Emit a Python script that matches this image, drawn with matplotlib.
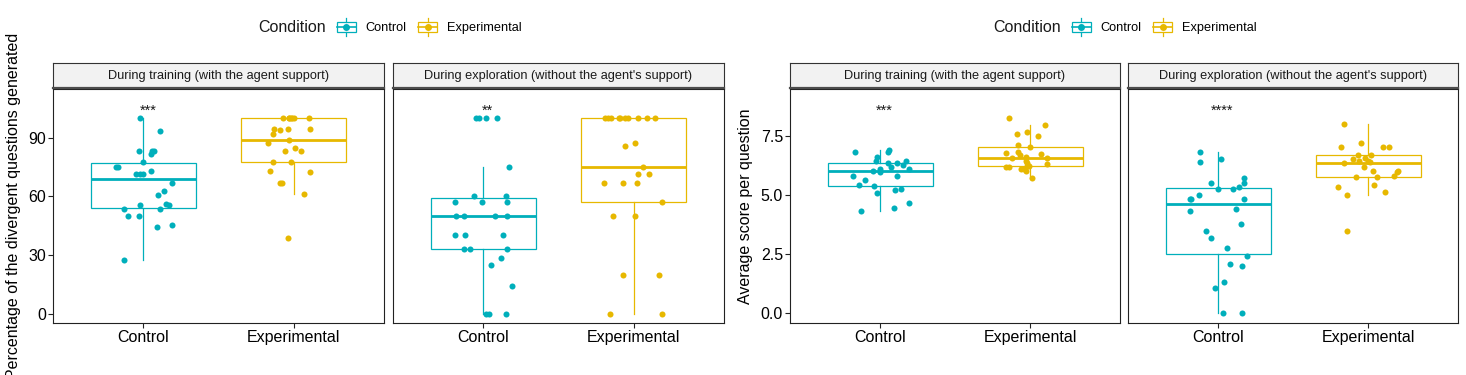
import matplotlib
matplotlib.use('Agg')
import matplotlib.pyplot as plt
from matplotlib.patches import Rectangle
from matplotlib.lines import Line2D
from matplotlib.legend_handler import HandlerBase
import numpy as np

plt.rcParams['font.family'] = ['Liberation Sans', 'DejaVu Sans']

groups = ['Control', 'Experimental']
colors = {'Control': '#00AFBB', 'Experimental': '#E7B800'}
facets = ['During training (with the agent support)',
          "During exploration (without the agent's support)"]

# percentage of divergent questions (left chart)
train_ctrl_pct = [100, 93.3, 83.3, 81.8, 83.3, 83.3, 77.8, 75, 75, 71.4, 71.4, 71.4, 72.7,
                  66.7, 62.5, 60.9, 55.6, 56.2, 55.6, 53.3, 53.3, 50, 50, 45.5, 44.4, 27.6]
train_ctrl_pct_jit = [-0.02, 0.11, -0.03, 0.05, 0.06, 0.07, 0.00, -0.18, -0.17, -0.05, 0.00, -0.02, 0.05,
                      0.19, 0.14, 0.10, -0.02, 0.15, 0.17, -0.13, 0.11, -0.10, -0.03, 0.19, 0.09, -0.13]
train_exp_pct = [100, 100, 100, 100, 100, 100, 100, 94.4, 94.4, 94.4, 93.8, 91.7, 88.9,
                 87.5, 83.3, 84.6, 83.3, 77.8, 77.8, 72.7, 72.2, 66.7, 66.7, 61.1, 38.9]
train_exp_pct_jit = [-0.07, -0.03, -0.02, 0.00, 0.10, -0.03, -0.01, -0.13, -0.04, 0.11, -0.09, -0.14, -0.03,
                     -0.17, -0.06, 0.01, 0.05, -0.14, -0.02, -0.16, 0.11, -0.09, -0.08, 0.07, -0.04]
explore_ctrl_pct = [100, 100, 100, 100, 75, 60, 60, 57.1, 57.1, 57.1, 50, 50, 50, 50,
                    40, 40, 40, 33.3, 33.3, 33.3, 28.6, 25, 14.3, 0, 0, 0]
explore_ctrl_pct_jit = [-0.05, -0.03, 0.02, 0.09, 0.17, -0.06, 0.15, -0.19, -0.01, 0.16, -0.18, -0.13, 0.08, 0.16,
                        -0.19, -0.12, 0.13, -0.13, -0.09, 0.16, 0.12, 0.05, 0.19, 0.02, 0.04, 0.15]
explore_exp_pct = [100, 100, 100, 100, 100, 100, 100, 100, 100, 100, 87.5, 85.7, 75,
                   71.4, 71.4, 66.7, 66.7, 66.7, 57.1, 50, 50, 20, 20, 0, 0]
explore_exp_pct_jit = [-0.19, -0.17, -0.15, -0.10, -0.09, -0.06, -0.04, 0.03, 0.09, 0.14, 0.01, -0.06, 0.06,
                       0.03, 0.10, -0.20, -0.07, 0.02, 0.19, -0.14, 0.01, -0.07, 0.17, -0.16, 0.19]

# average score per question (right chart)
train_ctrl_score = [6.81, 6.90, 6.81, 6.61, 6.44, 6.36, 6.36, 6.26, 6.42, 6.17, 6.09, 6.00, 6.11,
                    5.97, 5.80, 5.80, 5.64, 5.42, 5.36, 5.22, 5.25, 5.09, 4.66, 4.44, 4.30]
train_ctrl_score_jit = [-0.17, 0.06, 0.05, -0.02, -0.03, 0.05, 0.11, 0.15, 0.17, 0.07, 0.19, -0.05, 0.00,
                        0.00, -0.18, 0.11, -0.10, -0.14, -0.04, 0.10, 0.14, -0.02, 0.19, 0.09, -0.13]
train_exp_score = [8.26, 7.95, 7.58, 7.66, 7.50, 7.12, 7.01, 6.76, 6.81, 6.70, 6.73, 6.55, 6.61,
                   6.55, 6.44, 6.36, 6.30, 6.18, 6.18, 6.23, 6.23, 6.09, 6.09, 6.01, 5.70]
train_exp_score_jit = [-0.14, 0.10, -0.09, -0.02, 0.05, -0.08, 0.00, -0.16, -0.08, -0.07, 0.07, -0.12, -0.03,
                       0.11, -0.03, -0.02, 0.11, -0.16, -0.14, -0.02, -0.01, -0.06, -0.04, -0.03, 0.01]
explore_ctrl_score = [6.82, 6.40, 6.50, 5.70, 5.50, 5.50, 5.25, 5.25, 5.32, 5.00, 4.83, 4.83, 4.83,
                      4.33, 4.42, 3.78, 3.49, 3.19, 2.74, 2.42, 2.09, 1.98, 1.32, 1.08, 0, 0]
explore_ctrl_score_jit = [-0.12, -0.12, 0.02, 0.17, 0.17, -0.05, 0.00, 0.10, 0.14, -0.13, -0.19, -0.18, 0.17,
                          -0.19, 0.12, 0.15, -0.08, -0.05, 0.06, 0.19, 0.08, 0.16, 0.04, -0.02, 0.03, 0.16]
explore_exp_score = [8.01, 7.18, 7.01, 7.01, 7.01, 6.67, 6.67, 6.50, 6.42, 6.38, 6.33, 6.17, 6.00,
                     6.01, 5.97, 5.74, 5.74, 5.80, 5.43, 5.32, 5.14, 5.00, 3.49, 6.55, 6.45]
explore_exp_score_jit = [-0.16, -0.05, -0.18, 0.10, 0.14, -0.07, 0.02, -0.10, -0.06, 0.01, -0.16, -0.03, 0.03,
                         0.20, 0.19, -0.08, 0.06, 0.17, 0.04, -0.20, 0.11, -0.14, -0.14, -0.02, 0.00]

pct_stars = ['***', '**']
score_stars = ['***', '****']

W, H = 1466, 375
fig = plt.figure(figsize=(W / 100, H / 100), dpi=100)

BIG = 11.5
SMALL = 9.2


def px_axes(x0, x1, y0, y1):
    return fig.add_axes([x0 / W, 1 - y1 / H, (x1 - x0) / W, (y1 - y0) / H])


def draw_panel(x0, x1, title, series, ylim, yticks, yticklabels, stars, star_y, first, ylabel=None):
    ax = px_axes(x0, x1, 89, 323)
    for i, (vals, jit) in enumerate(series):
        c = colors[groups[i]]
        pos = i + 1
        ax.boxplot(vals, positions=[pos], widths=0.7, whis=1.5, showfliers=False,
                   showcaps=False, patch_artist=True,
                   boxprops=dict(facecolor='white', edgecolor=c, linewidth=0.9),
                   whiskerprops=dict(color=c, linewidth=0.9),
                   medianprops=dict(color=c, linewidth=2.0))
        ax.scatter(pos + np.array(jit), vals, s=19, color=c, linewidths=0, zorder=3)
    ax.text(1.03, star_y, stars, ha='center', va='baseline', fontsize=10.5, color='#1a1a1a')
    ax.set_xlim(0.4, 2.6)
    ax.set_ylim(*ylim)
    ax.set_xticks([1, 2])
    ax.set_xticklabels(groups, fontsize=BIG)
    ax.set_yticks(yticks)
    ax.set_yticklabels(yticklabels, fontsize=BIG)
    ax.tick_params(length=3.5, width=0.8, pad=1.5, color='#222222')
    if not first:
        ax.tick_params(axis='y', left=False, labelleft=False)
    for s in ax.spines.values():
        s.set_color('#222222')
        s.set_linewidth(0.8)
    if ylabel:
        ax.set_ylabel(ylabel, fontsize=BIG, labelpad=5.5)

    sax = px_axes(x0, x1, 63, 88)
    sax.set_facecolor('#F2F2F2')
    sax.set_xticks([])
    sax.set_yticks([])
    for s in sax.spines.values():
        s.set_color('#333333')
        s.set_linewidth(0.8)
    sax.spines['bottom'].set_linewidth(1.6)
    sax.spines['bottom'].set_color('#4d4d4d')
    sax.text(0.5, 0.5, title, ha='center', va='center', fontsize=SMALL, color='#1a1a1a',
             transform=sax.transAxes)
    return ax


class BoxKey(HandlerBase):
    def create_artists(self, legend, orig_handle, xdescent, ydescent, width, height, fontsize, trans):
        c = orig_handle.get_color()
        x = -xdescent
        y = -ydescent
        cx = x + width / 2
        box = Rectangle((x, y + 0.17 * height), width, 0.66 * height, facecolor='white',
                        edgecolor=c, linewidth=0.9, transform=trans)
        med = Line2D([x, x + width], [y + 0.5 * height] * 2, color=c, lw=1.2, transform=trans)
        w1 = Line2D([cx, cx], [y - 0.1 * height, y + 0.17 * height], color=c, lw=0.9, transform=trans)
        w2 = Line2D([cx, cx], [y + 0.83 * height, y + 1.1 * height], color=c, lw=0.9, transform=trans)
        dot = Line2D([cx], [y + 0.5 * height], marker='o', ms=4, color=c, lw=0, transform=trans)
        return [box, med, w1, w2, dot]


def draw_legend(title_x, keys_x):
    yc = 1 - 27 / H
    fig.text(title_x / W, yc, 'Condition', ha='left', va='center', fontsize=BIG, color='#1a1a1a')
    handles = [Line2D([], [], color=colors[g]) for g in groups]
    fig.legend(handles, groups, loc='center left', bbox_to_anchor=(keys_x / W, yc), ncol=2,
               frameon=False, fontsize=SMALL, handler_map={Line2D: BoxKey()},
               handlelength=1.45, handleheight=1.4, handletextpad=0.8, columnspacing=0.9,
               borderpad=0, borderaxespad=0)


pct_series = [[(train_ctrl_pct, train_ctrl_pct_jit), (train_exp_pct, train_exp_pct_jit)],
              [(explore_ctrl_pct, explore_ctrl_pct_jit), (explore_exp_pct, explore_exp_pct_jit)]]
score_series = [[(train_ctrl_score, train_ctrl_score_jit), (train_exp_score, train_exp_score_jit)],
                [(explore_ctrl_score, explore_ctrl_score_jit), (explore_exp_score, explore_exp_score_jit)]]

left_panels = [(53, 384), (393, 724)]
right_panels = [(790, 1120), (1128, 1458)]

for k in range(2):
    draw_panel(left_panels[k][0], left_panels[k][1], facets[k], pct_series[k],
               (-4.8, 114.9), [0, 30, 60, 90], ['0', '30', '60', '90'],
               pct_stars[k], 101.6, k == 0,
               'Percentage of the divergent questions generated' if k == 0 else None)
    draw_panel(right_panels[k][0], right_panels[k][1], facets[k], score_series[k],
               (-0.41, 9.47), [0, 2.5, 5, 7.5], ['0.0', '2.5', '5.0', '7.5'],
               score_stars[k], 8.40, k == 0,
               'Average score per question' if k == 0 else None)

draw_legend(258, 337)
draw_legend(993, 1072)

fig.savefig('out.png', dpi=100)
